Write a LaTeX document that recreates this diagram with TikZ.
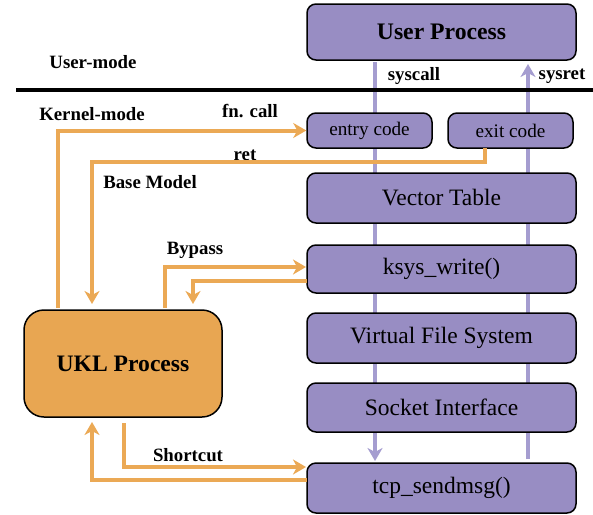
\documentclass[tikz,border=0pt]{standalone}
\usepackage{fontspec}
\setmainfont{Liberation Serif}
\usetikzlibrary{arrows.meta,calc}
\definecolor{pfill}{HTML}{988DC3}
\definecolor{pline}{HTML}{A59DD0}
\definecolor{ofill}{HTML}{E8A652}
\definecolor{oline}{HTML}{EBA955}
\tikzset{
  box/.style={draw=black,line width=1.5pt,fill=pfill,rounded corners=9pt,inner sep=0pt,font=\fontsize{23.5}{27}\selectfont},
  sbox/.style={box,font=\fontsize{19.2}{22}\selectfont},
  lbl/.style={font=\bfseries\fontsize{18.8}{22}\selectfont,inner sep=0pt},
  oarrow/.style={draw=oline,line width=4pt,-{Stealth[length=13pt,width=15pt,inset=4pt]}},
  parrow/.style={draw=pline,line width=4pt,-{Stealth[length=13pt,width=15pt,inset=4pt]}},
  pplain/.style={draw=pline,line width=4pt}
}
\begin{document}
\begin{tikzpicture}[x=1pt,y=-1pt]
\useasboundingbox (0,0) rectangle (593,514);
% coordinates for purple lines
\coordinate (sc1) at (375,62);
\coordinate (sc2) at (375,461);
\coordinate (sr1) at (528,459);
\coordinate (sr2) at (528,64);
\draw[pplain] (sc1) -- (375,445);
\draw[parrow] (375,440) -- (sc2);
\draw[parrow] (sr1) -- (sr2);
% separator
\coordinate (sepL) at (16,90);
\coordinate (sepR) at (593,90);
\draw[line width=4pt] (sepL) -- (sepR);
% boxes
\node[box,minimum width=269pt,minimum height=56pt,font=\bfseries\fontsize{23.7}{27}\selectfont] (user) at (441.5,32) {User Process};
\node[sbox,minimum width=125pt,minimum height=35pt] (entry) at (369.5,130.5) {entry code};
\node[sbox,minimum width=125pt,minimum height=35pt] (exit) at (510.5,130.5) {exit code};
\node[box,minimum width=269pt,minimum height=50pt] (vec) at (441.5,198) {Vector Table};
\node[box,minimum width=269pt,minimum height=48pt] (ksys) at (441.5,269) {ksys\_write()};
\node[box,minimum width=269pt,minimum height=50pt] (vfs) at (441.5,338) {Virtual File System};
\node[box,minimum width=269pt,minimum height=49pt] (sock) at (441.5,407.5) {Socket Interface};
\node[box,minimum width=269pt,minimum height=50pt] (tcp) at (441.5,488) {tcp\_sendmsg()};
\node[box,fill=ofill,rounded corners=20pt,minimum width=198pt,minimum height=107pt,font=\bfseries\fontsize{23.6}{27}\selectfont] (ukl) at (123,363.5) {UKL Process};
% labels
\node[lbl] (lum) at (93,62) {User-mode};
\node[lbl] (lkm) at (92,114) {Kernel-mode};
\node[lbl] (lfn) at (250,111) {fn. call};
\node[lbl] (lret) at (245,155) {ret};
\node[lbl] (lbase) at (150,182) {Base Model};
\node[lbl] (lbyp) at (195,250) {Bypass};
\node[lbl] (lsys) at (414,76) {syscall};
\node[lbl] (lsysr) at (562,76) {sysret};
\node[lbl] (lsc) at (188,455) {Shortcut};
% orange connectors
\coordinate (fn0) at (58,308);
\draw[oarrow] (fn0) |- (entry.west);
\coordinate (rt0) at (485,148);
\coordinate (rt1) at (92,304);
\draw[oarrow] (rt0) |- (300,162) -| (rt1);
\coordinate (by0) at (165,308);
\coordinate (by1) at (306,267);
\draw[oarrow] (by0) |- (by1);
\coordinate (bb0) at (307,281);
\coordinate (bb1) at (193,304);
\draw[oarrow] (bb0) -| (bb1);
\coordinate (sh0) at (124,423);
\coordinate (sh1) at (306,467);
\draw[oarrow] (sh0) |- (sh1);
\coordinate (sr0) at (307,480);
\coordinate (srE) at (92,422);
\draw[oarrow] (sr0) -| (srE);
\end{tikzpicture}
\end{document}
